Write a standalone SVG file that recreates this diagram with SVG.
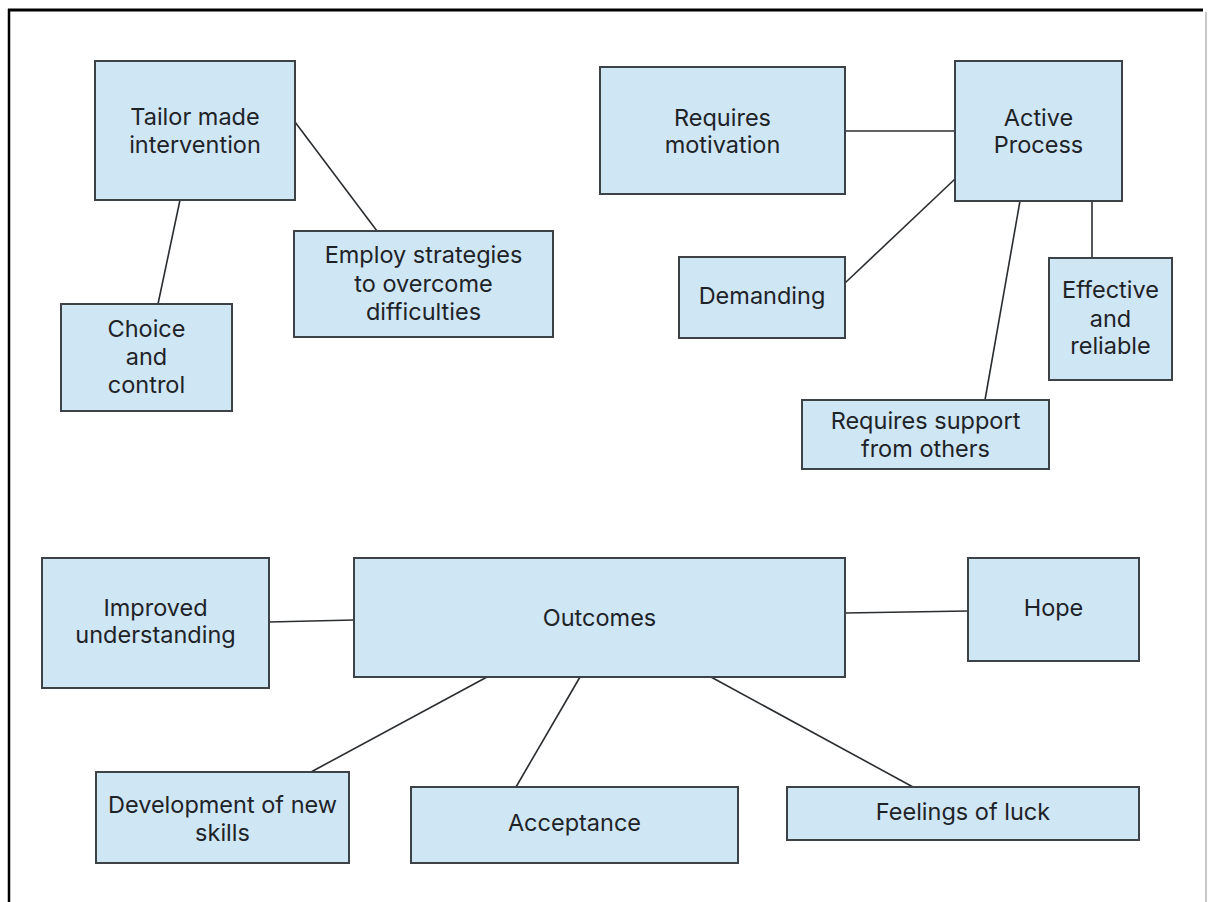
<svg xmlns="http://www.w3.org/2000/svg" width="1212" height="902" viewBox="0 0 1212 902">
<style>
.box{fill:#cfe6f5;stroke:#3d4247;stroke-width:2}
.lbl{font-family:Inter,"Liberation Sans",Arial,sans-serif;font-size:23.5px;fill:#1e2328;text-anchor:middle}
.conn line{stroke:#2a2d30;stroke-width:1.6}
</style>
<rect x="0" y="0" width="1212" height="902" fill="#ffffff"/>
<g id="frame">
<line x1="8" y1="10" x2="1203" y2="10" stroke="#000" stroke-width="3"/>
<line x1="9" y1="9" x2="9" y2="902" stroke="#000" stroke-width="2.5"/>
<line x1="1206" y1="12" x2="1206" y2="902" stroke="#c9c9c9" stroke-width="2"/>
</g>
<g id="connectors" class="conn">
<line x1="180" y1="200" x2="158" y2="304"/>
<line x1="295" y1="122" x2="377" y2="231"/>
<line x1="845" y1="131" x2="955" y2="131"/>
<line x1="845" y1="283" x2="955" y2="179"/>
<line x1="1020" y1="201" x2="985" y2="400"/>
<line x1="1092" y1="201" x2="1092" y2="258"/>
<line x1="269" y1="622" x2="354" y2="620"/>
<line x1="845" y1="613" x2="968" y2="611"/>
<line x1="487" y1="677" x2="311" y2="772"/>
<line x1="580" y1="677" x2="516" y2="787"/>
<line x1="711" y1="677" x2="913" y2="787"/>
</g>
<g id="tailor"><rect class="box" x="95" y="61" width="200" height="139"/><text class="lbl" x="195" y="125">Tailor made</text><text class="lbl" x="195" y="153">intervention</text></g>
<g id="choice"><rect class="box" x="61" y="304" width="171" height="107"/><text class="lbl" x="146.5" y="337">Choice</text><text class="lbl" x="146.5" y="365">and</text><text class="lbl" x="146.5" y="393">control</text></g>
<g id="employ"><rect class="box" x="294" y="231" width="259" height="106"/><text class="lbl" x="423.5" y="263">Employ strategies</text><text class="lbl" x="423.5" y="292">to overcome</text><text class="lbl" x="423.5" y="320">difficulties</text></g>
<g id="motivation"><rect class="box" x="600" y="67" width="245" height="127"/><text class="lbl" x="722.5" y="126">Requires</text><text class="lbl" x="722.5" y="153">motivation</text></g>
<g id="active"><rect class="box" x="955" y="61" width="167" height="140"/><text class="lbl" x="1038.5" y="126">Active</text><text class="lbl" x="1038.5" y="153">Process</text></g>
<g id="demanding"><rect class="box" x="679" y="257" width="166" height="81"/><text class="lbl" x="762" y="304">Demanding</text></g>
<g id="effective"><rect class="box" x="1049" y="258" width="123" height="122"/><text class="lbl" x="1110.5" y="298">Effective</text><text class="lbl" x="1110.5" y="327">and</text><text class="lbl" x="1110.5" y="354">reliable</text></g>
<g id="support"><rect class="box" x="802" y="400" width="247" height="69"/><text class="lbl" x="925.5" y="429">Requires support</text><text class="lbl" x="925.5" y="457">from others</text></g>
<g id="improved"><rect class="box" x="42" y="558" width="227" height="130"/><text class="lbl" x="155.5" y="616">Improved</text><text class="lbl" x="155.5" y="643">understanding</text></g>
<g id="outcomes"><rect class="box" x="354" y="558" width="491" height="119"/><text class="lbl" x="599.5" y="626">Outcomes</text></g>
<g id="hope"><rect class="box" x="968" y="558" width="171" height="103"/><text class="lbl" x="1053.5" y="616">Hope</text></g>
<g id="development"><rect class="box" x="96" y="772" width="253" height="91"/><text class="lbl" x="222.5" y="813">Development of new</text><text class="lbl" x="222.5" y="841">skills</text></g>
<g id="acceptance"><rect class="box" x="411" y="787" width="327" height="76"/><text class="lbl" x="574.5" y="831">Acceptance</text></g>
<g id="luck"><rect class="box" x="787" y="787" width="352" height="53"/><text class="lbl" x="963" y="820">Feelings of luck</text></g>
</svg>
